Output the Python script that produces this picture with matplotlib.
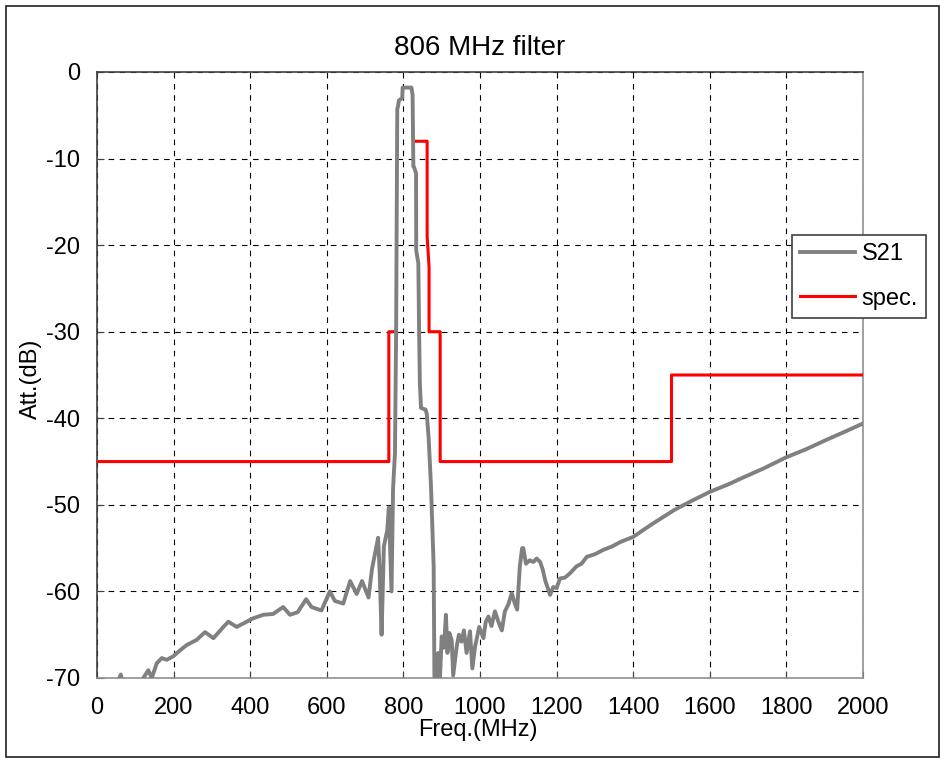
import numpy as np
import matplotlib
matplotlib.use("Agg")
import matplotlib.pyplot as plt
from matplotlib.patches import Rectangle

plt.rcParams['font.family'] = ['Liberation Sans', 'DejaVu Sans']
plt.rcParams['axes.unicode_minus'] = False

s21_freq = [0, 40, 62, 75, 115, 121, 134, 143, 156, 169, 182, 199, 217, 234, 260,
            282, 304, 330, 343, 365, 382, 408, 434, 460, 486, 504, 524, 546, 560,
            586, 608, 621, 643, 661, 678, 692, 709, 718, 734, 738, 743, 749, 758,
            762, 769, 773, 778, 781, 784, 786, 788, 797, 798, 821, 824, 826, 828,
            833, 833.5, 839, 841, 843, 846, 858, 861, 866, 872, 879, 881, 884, 888,
            891, 895, 900, 906, 911, 915, 920, 926, 930, 939, 945, 952, 958, 965,
            974, 980, 987, 998, 1009, 1015, 1022, 1030, 1039, 1048, 1057, 1065,
            1074, 1083, 1091, 1097, 1104, 1110, 1113, 1120, 1130, 1139, 1148, 1157,
            1164, 1170, 1183, 1191, 1200, 1209, 1222, 1235, 1252, 1265, 1279, 1300,
            1322, 1345, 1366, 1400, 1450, 1507, 1550, 1600, 1650, 1684, 1740, 1800,
            1850, 1904, 1950, 2000]
s21_att = [-72, -72, -69.6, -72, -71, -70, -69.1, -70, -68.3, -67.7, -67.9, -67.5,
           -66.8, -66.2, -65.6, -64.7, -65.4, -64.1, -63.5, -64.1, -63.7, -63.1,
           -62.7, -62.6, -61.8, -62.7, -62.4, -60.9, -61.8, -62.2, -60.0, -61.1,
           -61.4, -58.8, -60.3, -58.8, -60.7, -57.4, -53.8, -57.7, -65.0, -54.8,
           -52.9, -50.3, -60.0, -48.1, -44, -30, -4.2, -4.0, -3.3, -3.0, -1.8, -1.8,
           -2.7, -10.9, -11.0, -11.7, -20.6, -22.1, -30, -36, -38.8, -39, -39.5,
           -42.3, -47.8, -57.1, -70, -72, -67.5, -67.1, -70.5, -65.2, -66.5, -62.7,
           -67.1, -64.8, -65.6, -69.7, -66.4, -65.0, -65.8, -64.5, -67.1, -64.6,
           -68.9, -66.4, -64.1, -65.4, -63.5, -62.9, -64.0, -62.3, -63.5, -64.5,
           -62.3, -61.5, -60.2, -61.4, -62.1, -57.1, -55.0, -55.0, -56.8, -56.4,
           -56.6, -56.2, -56.6, -57.5, -58.7, -60.4, -59.5, -59.6, -58.5, -58.4,
           -57.9, -57.1, -56.8, -56.0, -55.7, -55.2, -54.8, -54.3, -53.7, -52.2,
           -50.6, -49.6, -48.5, -47.6, -46.9, -45.8, -44.5, -43.6, -42.5, -41.6,
           -40.6]

# spec mask (gap in the passband)
spec_freq = [0, 762, 762, 775, np.nan, 827, 862, 862, 867, 867, 896, 896, 1500, 1500, 2000]
spec_att = [-45, -45, -30, -30, np.nan, -8, -8, -19, -22.5, -30, -30, -45, -45, -35, -35]

x_ticks = np.arange(0, 2001, 200)
y_ticks = np.arange(-70, 1, 10)

fig = plt.figure(figsize=(9.41, 7.59), dpi=100)
ax = fig.add_axes([97 / 941, 1 - 678 / 759, 766 / 941, 606 / 759])

ax.plot(spec_freq, spec_att, color='#ff0000', lw=2.2, label='spec.', zorder=3)
ax.plot(s21_freq, s21_att, color='#808080', lw=2.8, label='S21', zorder=4)

ax.set_xlim(0, 2000)
ax.set_ylim(-70, 0)
ax.set_xticks(x_ticks)
ax.set_yticks(y_ticks)
ax.grid(True, color='black', lw=0.8, linestyle=(0, (5, 5)))
ax.tick_params(direction='in', length=5, color='#404040', labelsize=17)
ax.tick_params(axis='x', pad=14)
ax.tick_params(axis='y', pad=12)

ax.spines['top'].set_color('#404040')
ax.spines['left'].set_color('#404040')
ax.spines['right'].set_color('#909090')
ax.spines['bottom'].set_color('#909090')
for s in ax.spines.values():
    s.set_linewidth(1.2)

ax.set_title('806 MHz filter', fontsize=20, pad=12)
ax.set_xlabel('Freq.(MHz)', fontsize=17)
ax.xaxis.set_label_coords(0.497, -0.068)
ax.set_ylabel('Att.(dB)', fontsize=17)
ax.yaxis.set_label_coords(-0.072, 0.493)

h, l = ax.get_legend_handles_labels()
leg = ax.legend(h[::-1], l[::-1], loc='upper left',
                bbox_to_anchor=(792 / 941, 1 - 235 / 759), bbox_transform=fig.transFigure,
                borderaxespad=0, fontsize=17, fancybox=False, framealpha=1,
                edgecolor='#404040', handlelength=2.3, handletextpad=0.3,
                labelspacing=0.95, borderpad=0.35)
leg.get_frame().set_linewidth(1.2)

fig.add_artist(Rectangle((6 / 941, 2 / 759), 933 / 941, 751 / 759, transform=fig.transFigure,
                         fill=False, edgecolor='#202020', lw=1.2))

fig.savefig('out.png', dpi=100)
